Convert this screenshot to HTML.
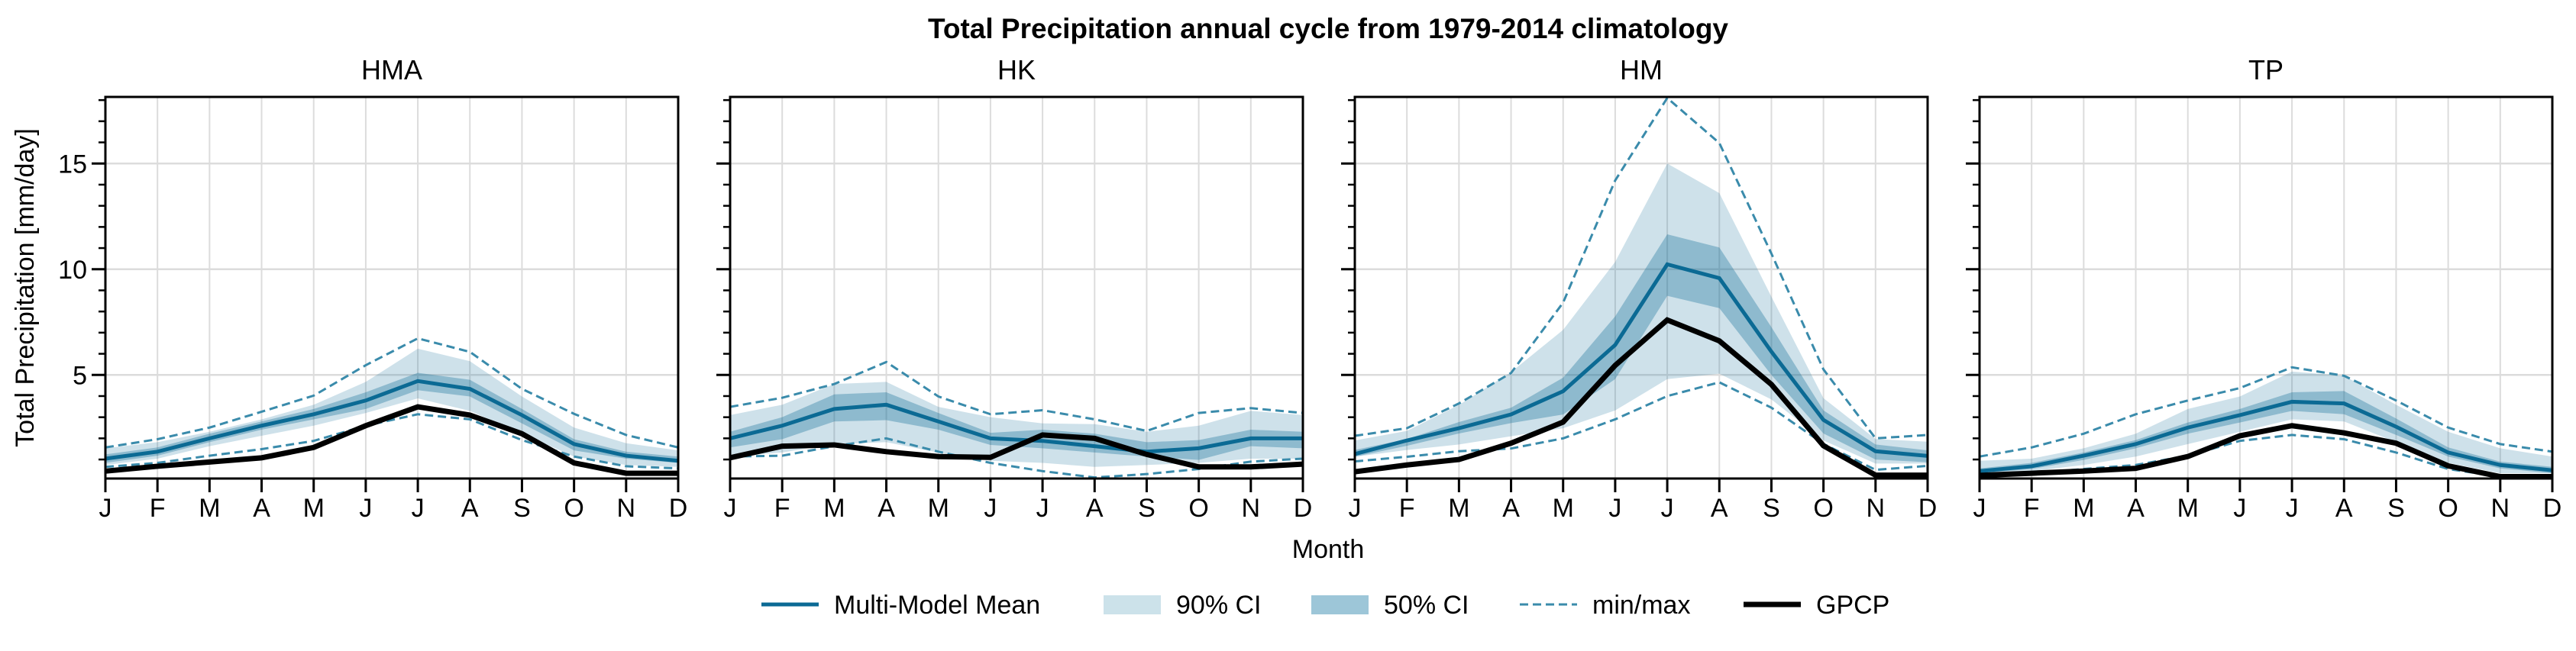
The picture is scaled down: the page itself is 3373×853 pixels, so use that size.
<!DOCTYPE html>
<html><head><meta charset="utf-8"><style>
html,body{margin:0;padding:0;background:#fff;}
svg{display:block;font-family:"Liberation Sans",sans-serif;}
</style></head><body>
<svg id="fig" width="3373" height="853" viewBox="0 0 3373 853" xmlns="http://www.w3.org/2000/svg">
<text x="1739" y="50" text-anchor="middle" font-size="37" font-weight="bold">Total Precipitation annual cycle from 1979-2014 climatology</text>
<text transform="translate(44,377) rotate(-90)" text-anchor="middle" font-size="34">Total Precipitation [mm/day]</text>
<text x="1739" y="731" text-anchor="middle" font-size="34">Month</text>
<g id="panels"></g>
<g id="legend"></g>
</svg>
<script>
const months = ["J","F","M","A","M","J","J","A","S","O","N","D"];
const regions = ["HMA","HK","HM","TP"];
const yTicks = [5,10,15];
const meanHMA=[1.04,1.37,2.0,2.6,3.14,3.79,4.71,4.34,3.1,1.73,1.18,0.94];
const gpcpHMA=[0.45,0.68,0.88,1.08,1.57,2.6,3.49,3.1,2.22,0.84,0.35,0.35];
const maxHMA=[1.57,1.96,2.51,3.26,4.02,5.46,6.73,6.09,4.34,3.16,2.16,1.57];
const minHMA=[0.65,0.84,1.18,1.49,1.88,2.6,3.14,2.9,1.92,1.14,0.68,0.58];
const ci90hiHMA=[1.53,1.82,2.31,2.9,3.59,4.67,6.24,5.65,3.98,2.51,1.77,1.43];
const ci90loHMA=[0.74,1.04,1.63,2.12,2.6,3.2,3.89,3.3,2.22,1.14,0.74,0.65];
const ci50hiHMA=[1.24,1.57,2.22,2.8,3.39,4.18,5.1,4.77,3.39,1.96,1.37,1.14];
const ci50loHMA=[0.84,1.18,1.82,2.41,2.9,3.39,4.28,3.98,2.71,1.43,1.04,0.84];

const meanHK=[2.0,2.6,3.39,3.59,2.8,2.0,1.88,1.63,1.37,1.53,2.0,2.0];
const gpcpHK=[1.08,1.63,1.69,1.37,1.14,1.1,2.16,2.0,1.24,0.65,0.65,0.78];
const maxHK=[3.49,3.92,4.57,5.61,3.98,3.14,3.33,2.9,2.35,3.2,3.43,3.2];
const minHK=[1.14,1.18,1.63,2.0,1.37,0.84,0.45,0.15,0.31,0.55,0.9,1.04];
const ci90hiHK=[3.1,3.59,4.57,4.67,3.49,3.0,2.71,2.67,2.31,2.6,3.3,3.1];
const ci90loHK=[1.14,1.33,1.73,1.82,1.33,0.94,0.84,0.65,0.74,0.84,1.04,1.04];
const ci50hiHK=[2.31,3.0,4.08,4.18,3.2,2.26,2.41,2.22,1.82,1.92,2.41,2.31];
const ci50loHK=[1.57,1.96,2.8,2.86,2.41,1.69,1.53,1.33,1.14,0.98,1.63,1.53];

const meanHM=[1.26,1.9,2.48,3.13,4.23,6.42,10.23,9.58,6.1,2.87,1.39,1.17];
const gpcpHM=[0.42,0.74,1.0,1.77,2.77,5.45,7.6,6.61,4.55,1.65,0.26,0.26];
const maxHM=[2.12,2.48,3.65,5.09,8.42,14.2,18.1,15.97,10.74,5.26,2.0,2.16];
const minHM=[0.91,1.13,1.39,1.52,2.0,2.9,4.0,4.65,3.45,1.74,0.51,0.7];
const ci90hiHM=[1.9,2.35,3.58,5.13,7.13,10.35,15.0,13.6,8.7,3.9,1.97,1.84];
const ci90loHM=[1.13,1.45,1.71,2.1,2.48,3.32,4.8,5.06,3.84,1.9,0.81,0.81];
const ci50hiHM=[1.45,1.97,2.77,3.45,4.87,7.77,11.65,11.03,7.26,3.32,1.71,1.43];
const ci50loHM=[1.13,1.65,2.23,2.72,3.13,4.8,8.74,8.16,5.0,2.23,1.0,0.87];

const meanTP=[0.45,0.68,1.18,1.73,2.51,3.1,3.73,3.65,2.55,1.33,0.74,0.49];
const gpcpTP=[0.25,0.35,0.45,0.58,1.14,2.12,2.6,2.26,1.77,0.7,0.19,0.19];
const maxTP=[1.14,1.57,2.22,3.14,3.79,4.38,5.36,4.96,3.79,2.51,1.73,1.37];
const minTP=[0.35,0.35,0.55,0.74,1.18,1.88,2.16,1.96,1.33,0.55,0.19,0.19];
const ci90hiTP=[0.94,1.04,1.53,2.22,3.39,3.98,5.16,4.96,3.59,2.31,1.53,1.14];
const ci90loTP=[0.35,0.45,0.74,1.14,1.73,2.31,2.9,2.8,1.82,0.84,0.35,0.35];
const ci50hiTP=[0.58,0.84,1.33,1.92,2.75,3.39,4.18,4.24,2.94,1.57,0.9,0.65];
const ci50loTP=[0.35,0.55,0.98,1.53,2.22,2.75,3.3,3.14,2.16,1.14,0.58,0.35];

const DATA={
 HMA:{mean:meanHMA,gpcp:gpcpHMA,max:maxHMA,min:minHMA,h90:ci90hiHMA,l90:ci90loHMA,h50:ci50hiHMA,l50:ci50loHMA},
 HK:{mean:meanHK,gpcp:gpcpHK,max:maxHK,min:minHK,h90:ci90hiHK,l90:ci90loHK,h50:ci50hiHK,l50:ci50loHK},
 HM:{mean:meanHM,gpcp:gpcpHM,max:maxHM,min:minHM,h90:ci90hiHM,l90:ci90loHM,h50:ci50hiHM,l50:ci50loHM},
 TP:{mean:meanTP,gpcp:gpcpTP,max:maxTP,min:minTP,h90:ci90hiTP,l90:ci90loTP,h50:ci50hiTP,l50:ci50loTP}
};
const NS="http://www.w3.org/2000/svg";
const C_MEAN="#0b6a94", C_DASH="#3a8bab";
const lefts=[138,956,1774,2592], W=750, TOP=127, BOT=627, YMIN=0.1, YMAX=18.15;
function mk(tag,attrs,parent){const e=document.createElementNS(NS,tag);for(const k in attrs)e.setAttribute(k,attrs[k]);parent.appendChild(e);return e;}
const root=document.getElementById("panels");
regions.forEach((reg,pi)=>{
  const L=lefts[pi];
  const xs=i=>L+i*W/11;
  const ys=v=>BOT-(v-YMIN)/(YMAX-YMIN)*(BOT-TOP);
  const g=mk("g",{},root);
  
  
  const t=mk("text",{x:L+W/2,y:104,"text-anchor":"middle","font-size":36},g);
  t.textContent=reg;
  
  
  // grid
  months.forEach((m,i)=>{mk("line",{x1:xs(i),x2:xs(i),y1:TOP,y2:BOT,stroke:"#dcdcdc","stroke-width":2},g);});
  yTicks.forEach(v=>{mk("line",{x1:L,x2:L+W,y1:ys(v),y2:ys(v),stroke:"#dcdcdc","stroke-width":2.5},g);});
  const d=DATA[reg];
  const band=(hi,lo,op,name)=>{
    let p="M"+hi.map((v,i)=>xs(i)+","+ys(v)).join("L");
    for(let i=lo.length-1;i>=0;i--)p+="L"+xs(i)+","+ys(lo[i]);
    const e=mk("path",{d:p+"Z",fill:C_MEAN,"fill-opacity":op},g);
    
    
  };
  band(d.h90,d.l90,0.2,'ci90-band');
  band(d.h50,d.l50,0.33,'ci50-band');
  const line=(arr,col,w,dash,name)=>{
    const e=mk("polyline",{points:arr.map((v,i)=>xs(i)+","+ys(v)).join(" "),fill:"none",stroke:col,"stroke-width":w,"stroke-linejoin":"miter"},g);
    if(dash)e.setAttribute("stroke-dasharray",dash);
    
    
  };
  line(d.max,C_DASH,3,"11,6",'max-line');
  line(d.min,C_DASH,3,"11,6",'min-line');
  line(d.mean,C_MEAN,5,null,'mean-line');
  line(d.gpcp,"#000",7,null,'gpcp-line');
  mk("rect",{x:L,y:TOP,width:W,height:BOT-TOP,fill:"none",stroke:"#000","stroke-width":3},g);
  // y ticks
  for(let v=1;v<=18;v++){
    const maj=v%5===0;
    mk("line",{x1:L,x2:L-(maj?18:9),y1:ys(v),y2:ys(v),stroke:"#000","stroke-width":maj?3:2.5},g);
  }
  if(pi===0){yTicks.forEach(v=>{const tt=mk("text",{x:L-24,y:ys(v)+12,"text-anchor":"end","font-size":34},g);tt.textContent=v;
    
    });}
  months.forEach((m,i)=>{
    mk("line",{x1:xs(i),x2:xs(i),y1:BOT,y2:BOT+18,stroke:"#000","stroke-width":3},g);
    const tt=mk("text",{x:xs(i),y:677,"text-anchor":"middle","font-size":34},g);tt.textContent=m;
    
    
  });
});
// legend
const lg=document.getElementById("legend");
const items=[
 {n:"Multi-Model Mean",x:997,type:"line",c:C_MEAN,w:5},
 {n:"90% CI",x:1445,type:"patch",c:"#cce2ea"},
 {n:"50% CI",x:1717,type:"patch",c:"#9dc6d8"},
 {n:"min/max",x:1990,type:"dash",c:C_DASH,w:3},
 {n:"GPCP",x:2283,type:"line",c:"#000",w:7}
];
items.forEach(it=>{
  const g=mk("g",{},lg);
  
  
  if(it.type==="patch")mk("rect",{x:it.x,y:780,width:75,height:25,fill:it.c},g);
  else{const l=mk("line",{x1:it.x,x2:it.x+75,y1:792,y2:792,stroke:it.c,"stroke-width":it.w},g);if(it.type==="dash")l.setAttribute("stroke-dasharray","11,6");}
  const t=mk("text",{x:it.x+95,y:804,"font-size":34},g);t.textContent=it.n;
});
</script>
</body></html>
